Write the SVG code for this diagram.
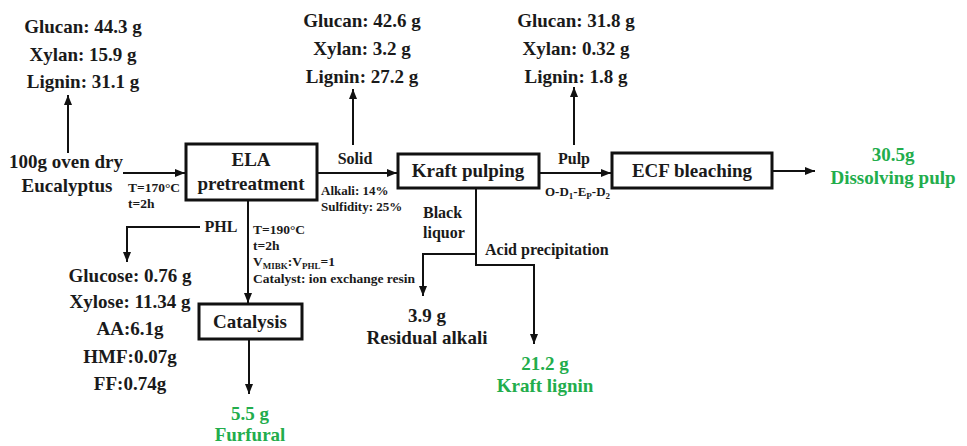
<svg xmlns="http://www.w3.org/2000/svg" width="967" height="446" viewBox="0 0 967 446">
<defs>
<marker id="ah" markerUnits="userSpaceOnUse" markerWidth="10" markerHeight="8" refX="10" refY="4" orient="auto">
<path d="M0,0 L10,4 L0,8 z" fill="#111"/>
</marker>
<style>
text{font-family:"Liberation Serif","Times New Roman",serif;font-weight:bold;fill:#1a1a1a}
.l{font-size:19px;text-anchor:middle}
.m{font-size:16px}
.s{font-size:13.5px}
.g{fill:#22ad4c}
.box{fill:#fff;stroke:#111;stroke-width:3}
.c{fill:none;stroke:#111;stroke-width:2}
.c path{marker-end:url(#ah)}
.sub{font-size:9px}
</style>
</defs>
<rect width="967" height="446" fill="#fff"/>

<g id="connectors" class="c">
<path d="M123,173 H185"/>
<path d="M68,153 V95"/>
<path d="M318,173 H397"/>
<path d="M353,145 V89"/>
<path d="M539,173 H611"/>
<path d="M574,145 V87"/>
<path d="M772,171 H815"/>
<path d="M200,227 H127 V262"/>
<path d="M248,200 V303"/>
<path d="M249,339 V394"/>
<path d="M476,188 V265 H534 V344"/>
<path d="M476,254 H423 V296"/>
</g>

<g id="feed">
<text class="l" x="66" y="168">100g oven dry</text>
<text class="l" x="67" y="192">Eucalyptus</text>
</g>
<g id="feed-composition">
<text class="l" x="83" y="33">Glucan: 44.3 g</text>
<text class="l" x="83" y="61">Xylan: 15.9 g</text>
<text class="l" x="83" y="88">Lignin: 31.1 g</text>
</g>
<g id="ela-conditions">
<text class="s" x="128" y="192">T=170°C</text>
<text class="s" x="128" y="208">t=2h</text>
</g>
<g id="ela">
<rect class="box" x="186" y="144" width="131" height="56"/>
<text class="l" x="251" y="166">ELA</text>
<text class="l" x="251" y="190">pretreatment</text>
</g>
<g id="solid-label">
<text class="m" x="355" y="164" text-anchor="middle">Solid</text>
<text class="s" x="321" y="195" style="font-size:13px">Alkali: 14%</text>
<text class="s" x="321" y="211" style="font-size:13px">Sulfidity: 25%</text>
</g>
<g id="solid-composition">
<text class="l" x="362" y="27">Glucan: 42.6 g</text>
<text class="l" x="362" y="55">Xylan: 3.2 g</text>
<text class="l" x="362" y="83">Lignin: 27.2 g</text>
</g>
<g id="kraft">
<rect class="box" x="398" y="154" width="141" height="34"/>
<text class="l" x="468" y="177">Kraft pulping</text>
</g>
<g id="pulp-label">
<text class="m" x="574" y="164" text-anchor="middle">Pulp</text>
<text x="545" y="196" style="font-size:13px">O-D<tspan class="sub" dy="3">1</tspan><tspan dy="-3">-E</tspan><tspan class="sub" dy="3">P</tspan><tspan dy="-3">-D</tspan><tspan class="sub" dy="3">2</tspan></text>
</g>
<g id="pulp-composition">
<text class="l" x="576" y="27">Glucan: 31.8 g</text>
<text class="l" x="576" y="55">Xylan: 0.32 g</text>
<text class="l" x="576" y="83">Lignin: 1.8 g</text>
</g>
<g id="ecf">
<rect class="box" x="612" y="153" width="160" height="35"/>
<text class="l" x="692" y="177">ECF bleaching</text>
</g>
<g id="dissolving-pulp">
<text class="l g" x="893" y="161">30.5g</text>
<text class="l g" x="893" y="184">Dissolving pulp</text>
</g>
<g id="phl">
<text class="m" x="221" y="232" text-anchor="middle">PHL</text>
</g>
<g id="phl-composition">
<text class="l" x="130" y="282">Glucose: 0.76 g</text>
<text class="l" x="130" y="308">Xylose: 11.34 g</text>
<text class="l" x="130" y="335">AA:6.1g</text>
<text class="l" x="130" y="363">HMF:0.07g</text>
<text class="l" x="130" y="390">FF:0.74g</text>
</g>
<g id="catalysis-conditions">
<text class="s" x="253" y="234">T=190°C</text>
<text class="s" x="253" y="250">t=2h</text>
<text class="s" x="253" y="266">V<tspan class="sub" dy="3">MIBK</tspan><tspan dy="-3">:V</tspan><tspan class="sub" dy="3">PHL</tspan><tspan dy="-3">=1</tspan></text>
<text class="s" x="253" y="283">Catalyst: ion exchange resin</text>
</g>
<g id="catalysis">
<rect class="box" x="199" y="304" width="103" height="35"/>
<text class="l" x="250" y="328">Catalysis</text>
</g>
<g id="furfural">
<text class="l g" x="250" y="420">5.5 g</text>
<text class="l g" x="250" y="441">Furfural</text>
</g>
<g id="black-liquor">
<text class="m" x="423" y="218">Black</text>
<text class="m" x="423" y="238">liquor</text>
<text class="m" x="485" y="255">Acid precipitation</text>
</g>
<g id="residual-alkali">
<text class="l" x="427" y="322">3.9 g</text>
<text class="l" x="427" y="344">Residual alkali</text>
</g>
<g id="kraft-lignin">
<text class="l g" x="545" y="370">21.2 g</text>
<text class="l g" x="545" y="392">Kraft lignin</text>
</g>
</svg>
